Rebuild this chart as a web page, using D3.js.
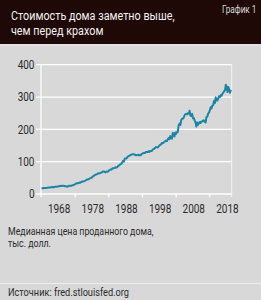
<!DOCTYPE html>
<html><head><meta charset="utf-8">
<script src="https://cdn.jsdelivr.net/npm/d3@7"></script>
<style>
html,body{margin:0;padding:0;background:#d8d8d8;}
svg{display:block;}
text{font-family:"Roboto","Liberation Sans",sans-serif;}
</style></head><body>
<div id="chart"></div>
<script>
const title = ["Стоимость дома заметно выше,", "чем перед крахом"];
const badge = "График 1";
const note = ["Медианная цена проданного дома,", "тыс. долл."];
const source = "Источник: fred.stlouisfed.org";
const firstYear = 1963;
// quarterly median sales price, thousands USD
const prices = [
 17.8,18.0,17.9,18.5, 18.5,18.9,18.9,19.4, 20.2,19.8,20.2,20.2, 21.5,21.0,21.4,21.2,
 22.3,22.3,22.3,23.4, 23.4,24.3,24.8,25.3, 25.0,25.6,25.6,24.9, 23.9,24.4,23.0,22.6,
 24.3,25.8,25.3,24.8, 26.2,26.8,27.9,29.2, 30.2,32.7,33.5,33.0, 34.2,35.2,35.0,36.6,
 37.9,38.5,38.6,40.3, 41.6,43.0,44.5,44.5, 46.3,47.5,49.0,50.0, 51.6,54.3,55.7,57.9,
 59.0,60.7,61.3,63.9, 63.7,64.0,65.0,66.4, 67.2,69.6,69.9,68.3, 66.8,69.4,69.2,69.4,
 72.7,74.0,75.5,76.0, 78.4,80.0,79.8,80.2, 82.8,82.2,82.8,86.8, 88.0,90.8,92.0,94.0,
 97.9,103.0,100.6,110.0, 110.0,110.0,114.0,116.5, 118.0,118.9,121.0,122.0, 123.0,123.0,122.5,121.9,
 120.0,119.9,121.0,121.5, 119.5,120.0,120.0,124.0, 125.0,127.0,127.0,127.0, 130.0,130.0,129.7,132.0,
 130.0,133.0,133.0,133.0, 137.0,139.0,140.0,143.0, 145.0,145.0,144.0,146.0, 150.0,152.0,153.0,158.0,
 157.0,158.5,162.0,163.0, 165.3,163.2,168.8,172.9, 169.8,179.0,172.5,171.1, 188.7,187.2,178.1,190.1,
 186.0,191.8,191.9,212.7, 217.6,213.5,228.8,232.5, 233.1,236.4,243.6,247.0, 247.8,246.3,250.2,248.9,
 257.4,242.2,241.5,247.9, 233.9,235.3,226.5,222.5, 208.4,220.9,214.3,219.0, 222.9,219.5,224.1,224.3,
 226.9,228.1,223.5,221.1, 238.4,238.7,248.8,251.7, 258.4,268.1,264.8,273.6, 275.2,288.0,281.0,298.9,
 289.2,289.1,295.8,302.5, 299.8,306.0,303.8,310.9, 313.1,318.2,320.5,337.9, 331.8,315.6,330.9,322.8,
 313.0,322.5
];
const yTicks = [0,100,200,300,400];
const xLabels = [1968,1978,1988,1998,2008,2018];
const xTickMarks = [1973,1983,1993,2003,2013];

const W = 261, H = 300;
const svg = d3.select("#chart").append("svg").attr("width", W).attr("height", H);

// narrow a text horizontally to mimic the condensed face; anchor: 0 start, 0.5 middle, 1 end
function narrow(sel, k, anchor) {
  anchor = anchor || 0;
  sel.each(function() {
    const t = d3.select(this);
    const w = this.getComputedTextLength();
    const x0 = +t.attr("x"), y0 = +t.attr("y");
    t.attr("text-anchor", "start").attr("x", 0).attr("y", 0)
     .attr("transform", `translate(${x0 - anchor * w * k},${y0}) scale(${k},1)`);
  });
}

svg.append("rect").attr("width", W).attr("height", H).attr("fill", "#d8d8d8");
svg.append("rect").attr("width", W).attr("height", 44).attr("fill", "#1e0906");
svg.append("rect").attr("y", 44).attr("width", W).attr("height", 2).attr("fill", "#e2e2e2");

svg.selectAll("text.title").data(title).join("text").attr("class", "title")
  .attr("x", 11).attr("y", (d, i) => 19.5 + i * 15.5).attr("fill", "#f2f2f2")
  .attr("font-size", 13.5).text(d => d).call(narrow, 0.8, 0);
svg.append("text").attr("x", 256.5).attr("y", 12.5)
  .attr("fill", "#d8d8d8").attr("font-size", 10).text(badge).call(narrow, 0.82, 1);

const x = d3.scaleLinear().domain([1963, 2019.5]).range([41.5, 231.7]);
const y = d3.scaleLinear().domain([0, 400]).range([194, 64.7]);

const g = svg.append("g");
g.selectAll("line.grid").data(yTicks).join("line")
  .attr("x1", 36).attr("x2", x.range()[1])
  .attr("y1", d => y(d)).attr("y2", d => y(d))
  .attr("stroke", "#ffffff").attr("stroke-width", 1.3);
g.append("line").attr("x1", x.range()[0] - 0.5).attr("x2", x.range()[0] - 0.5)
  .attr("y1", y(400)).attr("y2", y(0) + 3).attr("stroke", "#fff").attr("stroke-width", 1.3);
g.append("line").attr("x1", x.range()[1]).attr("x2", x.range()[1])
  .attr("y1", y(400)).attr("y2", y(0) + 3).attr("stroke", "#f4f4f4").attr("stroke-width", 1);
g.selectAll("line.xt").data(xTickMarks).join("line")
  .attr("x1", d => x(d)).attr("x2", d => x(d))
  .attr("y1", y(0)).attr("y2", y(0) + 3.5)
  .attr("stroke", "#fff").attr("stroke-width", 1.3);

g.selectAll("text.yl").data(yTicks).join("text")
  .attr("x", 34.5).attr("y", d => y(d) + 4.3)
  .attr("font-size", 12.5).attr("fill", "#2b2b2b").text(d => d).call(narrow, 0.8, 1);
g.selectAll("text.xl").data(xLabels).join("text")
  .attr("x", d => x(d) + 0.8).attr("y", 213)
  .attr("font-size", 12.5).attr("fill", "#2b2b2b").text(d => d).call(narrow, 0.8, 0.5);

const line = d3.line().x((d, i) => x(firstYear + i / 4)).y(d => y(d));
g.append("path").datum(prices).attr("d", line).attr("fill", "none")
  .attr("stroke", "#1a86a3").attr("stroke-width", 2).attr("stroke-linejoin", "round");

svg.selectAll("text.note").data(note).join("text").attr("class", "note")
  .attr("x", 8).attr("y", (d, i) => 235 + i * 11.5).attr("fill", "#2b2b2b")
  .attr("font-size", 11).text(d => d).call(narrow, 0.8, 0);

svg.append("line").attr("x1", 0).attr("x2", W).attr("y1", 283.5).attr("y2", 283.5)
  .attr("stroke", "#eeeeee").attr("stroke-width", 1.2);
svg.append("text").attr("x", 8).attr("y", 296).attr("fill", "#2b2b2b")
  .attr("font-size", 11.5).text(source).call(narrow, 0.8, 0);
</script>
</body></html>
